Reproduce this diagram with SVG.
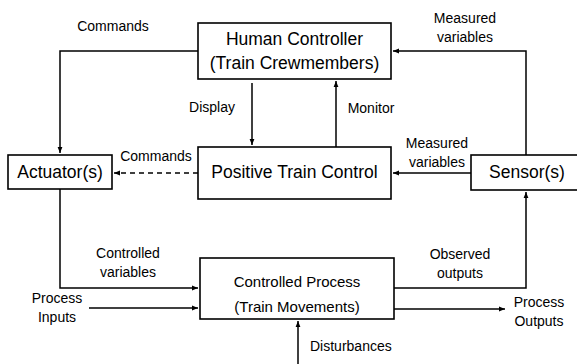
<svg xmlns="http://www.w3.org/2000/svg" width="577" height="364" viewBox="0 0 577 364">
<defs>
<marker id="ah" viewBox="0 0 6 6" refX="6" refY="3" markerWidth="6" markerHeight="6" markerUnits="userSpaceOnUse" orient="auto">
<path d="M0,0.6 L6,3 L0,5.4 Z" fill="#000"/>
</marker>
<style>
.box{fill:#fff;stroke:#000;stroke-width:1.6}
.bt{font-family:"Liberation Sans",Arial,sans-serif;font-size:17.5px;fill:#000;text-anchor:middle}
.pt{font-family:"Liberation Sans",Arial,sans-serif;font-size:15px;fill:#000;text-anchor:middle}
.lb{font-family:"Liberation Sans",Arial,sans-serif;font-size:14px;fill:#000;text-anchor:middle}
.ln{fill:none;stroke:#000;stroke-width:1.5}
</style>
</defs>
<rect width="577" height="364" fill="#fff"/>
<g id="connectors">
<path class="ln" d="M198,51 H60 V153" marker-end="url(#ah)"/>
<path class="ln" d="M252,83 V145" marker-end="url(#ah)"/>
<path class="ln" d="M336,147 V81" marker-end="url(#ah)"/>
<path class="ln" d="M526,155 V51 H393" marker-end="url(#ah)"/>
<path class="ln" d="M471,173 H393" marker-end="url(#ah)"/>
<path class="ln" d="M198,173 H114" stroke-dasharray="5,4" marker-end="url(#ah)"/>
<path class="ln" d="M60,189 V288 H198" marker-end="url(#ah)"/>
<path class="ln" d="M89,308 H198" marker-end="url(#ah)"/>
<path class="ln" d="M394,288 H526 V192" marker-end="url(#ah)"/>
<path class="ln" d="M394,309 H505" marker-end="url(#ah)"/>
<path class="ln" d="M298,364 V321" marker-end="url(#ah)"/>
<text class="lb" x="113" y="31">Commands</text>
<text class="lb" x="212" y="112">Display</text>
<text class="lb" x="371" y="113">Monitor</text>
<text class="lb" x="465" y="23">Measured</text>
<text class="lb" x="465" y="42">variables</text>
<text class="lb" x="437" y="148">Measured</text>
<text class="lb" x="437" y="167">variables</text>
<text class="lb" x="156" y="161">Commands</text>
<text class="lb" x="128" y="258">Controlled</text>
<text class="lb" x="128" y="277">variables</text>
<text class="lb" x="57" y="303">Process</text>
<text class="lb" x="57" y="322">Inputs</text>
<text class="lb" x="460" y="259">Observed</text>
<text class="lb" x="460" y="278">outputs</text>
<text class="lb" x="539" y="307">Process</text>
<text class="lb" x="539" y="326">Outputs</text>
<text class="lb" x="310" y="351" style="text-anchor:start">Disturbances</text>
</g>
<g id="human-controller">
<rect class="box" x="198" y="23" width="193" height="56"/>
<text class="bt" x="294.5" y="45">Human Controller</text>
<text class="bt" x="294.5" y="69">(Train Crewmembers)</text>
</g>
<g id="positive-train-control">
<rect class="box" x="198" y="147" width="193" height="52"/>
<text class="bt" x="294.5" y="178">Positive Train Control</text>
</g>
<g id="actuator">
<rect class="box" x="8" y="155" width="104" height="34"/>
<text class="bt" x="60" y="178">Actuator(s)</text>
</g>
<g id="sensor">
<rect class="box" x="471" y="155" width="120" height="35"/>
<text class="bt" x="527" y="178">Sensor(s)</text>
</g>
<g id="controlled-process">
<rect class="box" x="200" y="258" width="194" height="61"/>
<text class="pt" x="297" y="287">Controlled Process</text>
<text class="pt" x="297" y="312">(Train Movements)</text>
</g>
</svg>
